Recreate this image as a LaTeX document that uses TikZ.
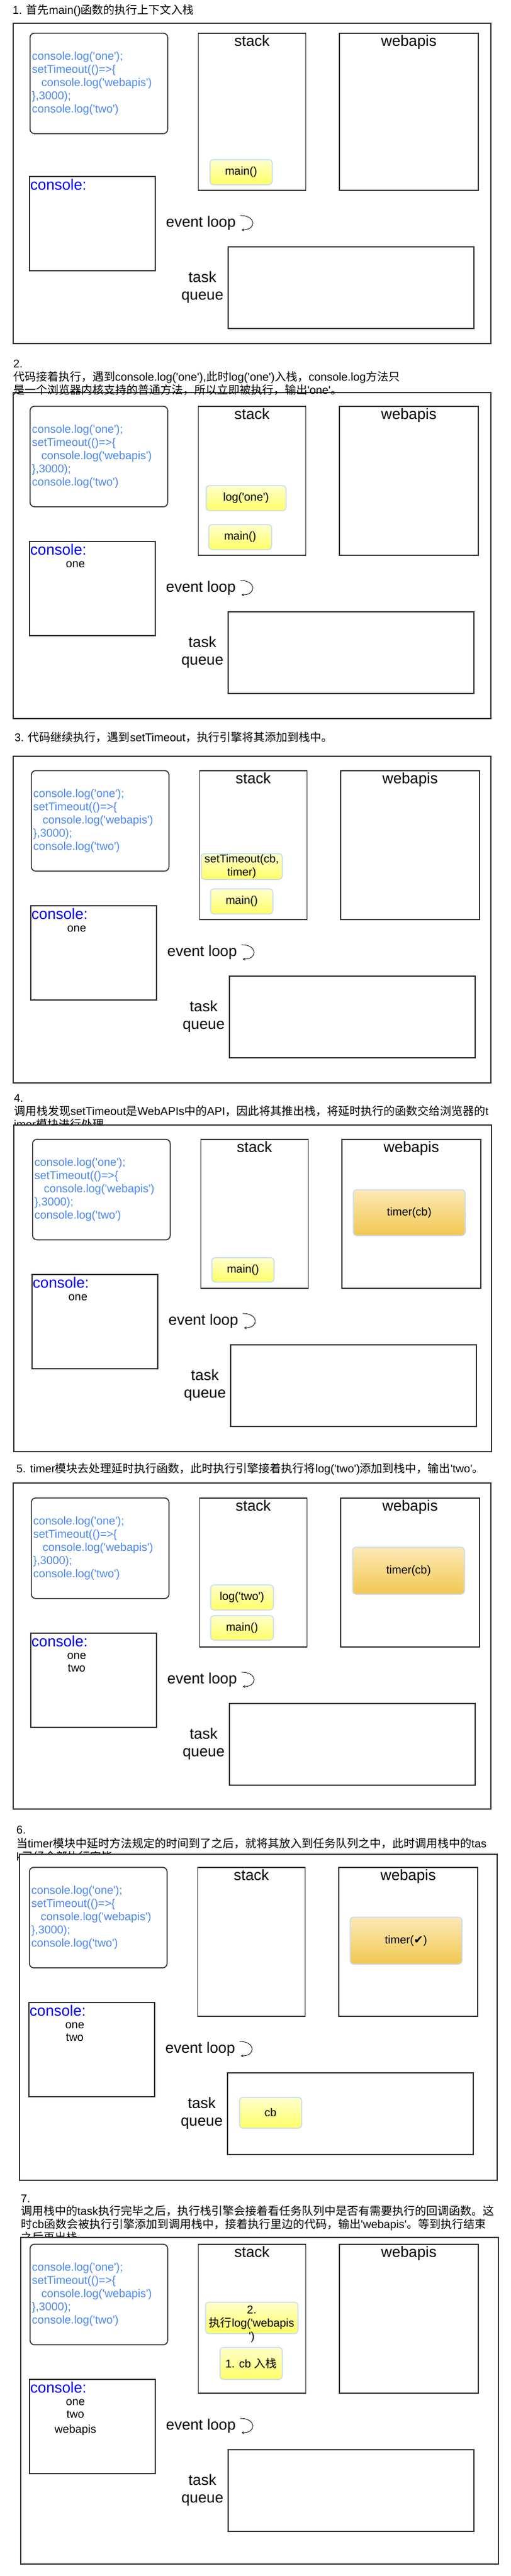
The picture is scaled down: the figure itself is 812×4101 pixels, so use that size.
\documentclass[tikz,border=0pt]{standalone}
\usepackage{fontspec}
\setmainfont{Liberation Sans}[Ligatures=TeXOff]
\newfontfamily\cjk{Noto Sans CJK SC}
\newfontfamily\symb{DejaVu Sans}
\usetikzlibrary{positioning, calc, arrows.meta}

\definecolor{framegray}{HTML}{333333}
\definecolor{codeblue}{HTML}{4A86F0}
\definecolor{conblue}{HTML}{0000FF}
\definecolor{fnyellowtop}{HTML}{FFFFCC}
\definecolor{fnyellowbot}{HTML}{FFFF66}
\definecolor{fnedge}{HTML}{C9DDF5}
\definecolor{timertop}{HTML}{FBE8B5}
\definecolor{timerbot}{HTML}{F2C852}

\newcommand\zh[1]{{\cjk #1}}

\tikzset{
  panelframe/.style={draw=framegray, line width=1.6pt, fill=white, anchor=north west,
    minimum width=760pt, inner sep=0},
  codebox/.style={draw=framegray, line width=1.6pt, rounded corners=7pt, anchor=north west,
    minimum height=160pt, text width=213pt, inner sep=3pt, align=left, text=codeblue,
    font={\fontsize{18}{21}\selectfont}},
  colbox/.style={draw=framegray, line width=1.6pt, inner sep=0},
  headtxt/.style={inner sep=0, font={\fontsize{24}{28}\selectfont}},
  looptxt/.style={inner sep=0, font={\fontsize{24}{28}\selectfont}},
  contitle/.style={inner sep=0, text=conblue, font={\fontsize{24}{28}\selectfont}},
  conout/.style={inner sep=0, align=center, font={\fontsize{18}{20}\selectfont}},
  titletxt/.style={inner sep=0, anchor=base west, font={\fontsize{18}{21}\selectfont}},
  stackfn/.style={draw=fnedge, line width=1.5pt, rounded corners=5pt, inner sep=0,
    top color=fnyellowtop, bottom color=fnyellowbot, align=center,
    minimum width=99pt, minimum height=40pt, font={\fontsize{18}{21}\selectfont}},
  timerfn/.style={stackfn, top color=timertop, bottom color=timerbot,
    minimum width=178pt, minimum height=75pt},
  looparrow/.style={line width=0.8pt, -{Stealth[length=4pt,width=4pt]}}
}

% code box, stack, webapis, console, event loop, task queue of one step
% #1 prefix, #2/#3 code box corner, #4 stack height, #5 console output
\newcommand\loopparts[5]{%
  \node[codebox] (#1code) at (#2,#3)
    {console.log('one');\\setTimeout(()=>\{\\\hspace*{15pt}console.log('webapis')\\\},3000);\\console.log('two')};
  \node[colbox, minimum width=171pt, minimum height=#4pt, right=47pt of #1code.north east, anchor=north west] (#1stack) {};
  \node[headtxt, anchor=base] (#1stacklbl) at ([yshift=-21pt]#1stack.north) {stack};
  \node[colbox, minimum width=221pt, minimum height=#4pt, right=52pt of #1stack.north east, anchor=north west] (#1web) {};
  \node[headtxt, anchor=base] (#1weblbl) at ([yshift=-21pt]#1web.north) {webapis};
  \node[colbox, minimum width=200pt, minimum height=150pt, anchor=north west] (#1con) at ({#2-1},{#3+#4-22}) {};
  \node[contitle, anchor=base west] (#1contitle) at ([shift={(2pt,-22pt)}]#1con.north west) {console:};
  \node[conout, anchor=north] (#1out) at ([shift={(74pt,-32.6pt)}]#1con.north west) {#5};
  \node[looptxt, anchor=west] (#1ev) at ({#2+217},{#3+#4+53}) {event loop};
  \coordinate (#1la) at ([shift={(7pt,12pt)}]#1ev.east);
  \coordinate (#1lb) at ([shift={(9pt,-11pt)}]#1ev.east);
  \draw[looparrow] (#1la) .. controls ([xshift=26pt]#1la) and ([xshift=24pt]#1lb) .. (#1lb);
  \node[colbox, minimum width=391pt, minimum height=130pt, anchor=north west] (#1queue) at ({#2+315},{#3+#4+90}) {};
  \node[looptxt, align=center] (#1qlbl) at ({#2+275},{#3+#4+155}) {task\\queue};
}

\begin{document}
\begin{tikzpicture}[x=1pt, y=-1pt]
\useasboundingbox (0,0) rectangle (812,4101);

% step 1
\node[titletxt] (t1a) at (20,22.5) {1. \zh{首先}main()\zh{函数的执行上下文入栈}};
\node[panelframe, minimum height=510pt] (p1frame) at (20,36) {};
\loopparts{p1}{47}{52}{250}{}
\node[stackfn] (p1main) at (383.5,274) {main()};

% step 2
\node[titletxt] (t2a) at (21,585.5) {2.};
\node[titletxt] (t2b) at (21,606.5) {\zh{代码接着执行，遇到}console.log('one'),\zh{此时}log('one')\zh{入栈，}console.log\zh{方法只}};
\node[panelframe, minimum height=519pt] (p2frame) at (20,624) {};
\node[titletxt] (t2c) at (21,627.5) {\zh{是一个浏览器内核支持的普通方法，所以立即被执行，输出}'one'\zh{。}};
\loopparts{p2}{47}{646}{237}{one}
\node[stackfn, minimum width=127pt] (p2logone) at (391.5,793) {log('one')};
\node[stackfn, minimum width=100pt] (p2main) at (382,855) {main()};

% step 3
\node[titletxt] (t3a) at (23,1180.5) {3. \zh{代码继续执行，遇到}setTimeout\zh{，执行引擎将其添加到栈中。}};
\node[panelframe, minimum height=520pt] (p3frame) at (20,1203) {};
\loopparts{p3}{49}{1226}{237}{one}
\node[stackfn, minimum width=129pt, minimum height=41pt] (p3settime) at (384.5,1379.5) {setTimeout(cb,\\timer)};
\node[stackfn] (p3main) at (384.5,1435) {main()};

% step 4
\node[titletxt] (t4a) at (22,1754.5) {4.};
\node[titletxt] (t4b) at (22,1775.5) {\zh{调用栈发现}setTimeout\zh{是}WebAPIs\zh{中的}API\zh{，因此将其推出栈，将延时执行的函数交给浏览器的}t};
\node[titletxt] (t4c) at (22,1796.5) {imer\zh{模块进行处理}};
\node[panelframe, minimum height=520pt] (p4frame) at (21,1790) {};
\loopparts{p4}{51}{1813}{237}{one}
\node[timerfn, minimum height=73pt] (p4timer) at (651,1930.5) {timer(cb)};
\node[stackfn, minimum height=39pt] (p4main) at (386.5,2021.5) {main()};

% step 5
\node[titletxt] (t5a) at (26,2344.5) {5. timer\zh{模块去处理延时执行函数，此时执行引擎接着执行将}log('two')\zh{添加到栈中，输出}'two'\zh{。}};
\node[panelframe, minimum height=519pt] (p5frame) at (20,2360) {};
\loopparts{p5}{49}{2384}{237}{one\\two}
\node[timerfn] (p5timer) at (650,2500.5) {timer(cb)};
\node[stackfn, minimum width=100pt] (p5logtwo) at (385,2543) {log('two')};
\node[stackfn, minimum width=100pt, minimum height=39pt] (p5main) at (385,2591.5) {main()};

% step 6
\node[titletxt] (t6a) at (26,2919.5) {6.};
\node[titletxt] (t6b) at (26,2941.5) {\zh{当}timer\zh{模块中延时方法规定的时间到了之后，就将其放入到任务队列之中，此时调用栈中的}tas};
\node[titletxt] (t6c) at (26,2962.5) {k\zh{已经全部执行完毕}};
\node[panelframe, minimum height=519pt] (p6frame) at (30,2951) {};
\loopparts{p6}{46}{2972}{237}{one\\two}
\node[timerfn] (p6timer) at (646,3089.5) {timer({\symb ✔})};
\node[stackfn, minimum height=49pt] (p6cb) at (430.5,3363.5) {cb};

% step 7
\node[titletxt] (t7a) at (33,3506.5) {7.};
\node[titletxt] (t7b) at (33,3526.5) {\zh{调用栈中的}task\zh{执行完毕之后，执行栈引擎会接着看任务队列中是否有需要执行的回调函数。这}};
\node[titletxt] (t7c) at (33,3547.5) {\zh{时}cb\zh{函数会被执行引擎添加到调用栈中，接着执行里边的代码，输出}'webapis'\zh{。等到执行结束}};
\node[titletxt] (t7d) at (33,3568.5) {\zh{之后再出栈}};
\node[panelframe, minimum height=520pt] (p7frame) at (32,3561) {};
\loopparts{p7}{47}{3572}{237}{one\\two\\[4pt]webapis}
\node[stackfn, minimum width=147pt, minimum height=50pt] (p7exec) at (400.5,3690) {};
\node[inner sep=0, align=center, font={\fontsize{18}{21}\selectfont}] (p7exectxt) at (400.5,3700) {2.\\\zh{执行}log('webapis\\')};
\node[stackfn, minimum height=51pt] (p7cb) at (399.5,3762.5) {1. cb \zh{入栈}};

\end{tikzpicture}
\end{document}
